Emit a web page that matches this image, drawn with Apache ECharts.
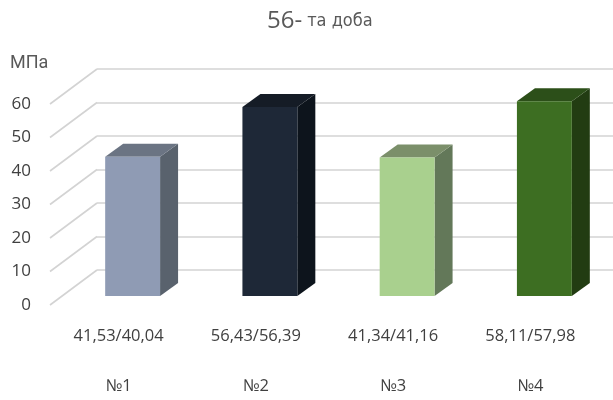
<!DOCTYPE html>
<html>
<head>
<meta charset="utf-8">
<script src="https://cdn.jsdelivr.net/npm/echarts@6/dist/echarts.min.js"></script>
<style>
  html, body { margin: 0; padding: 0; background: #fff; }
  #chart { width: 613px; height: 400px; }
</style>
</head>
<body>
<div id="chart"></div>
<script>
// дані діаграми
const categories = ['№1', '№2', '№3', '№4'];
const ratioLabels = ['41,53/40,04', '56,43/56,39', '41,34/41,16', '58,11/57,98'];
const values = [41.53, 56.43, 41.34, 58.11];
const yTicks = [0, 10, 20, 30, 40, 50, 60];

// кольори граней: фронт / верх / бік
const faceColors = ['#8f9bb4', '#1e2837', '#a9d08e', '#3d6e22'];
const topColors = ['#6b7483', '#151c26', '#7b8f6a', '#2c4f19'];
const sideColors = ['#59626d', '#0d141c', '#637859', '#223c12'];

const gridColor = '#d3d3d3';
const DEPTH_X = 47, DEPTH_Y = -35; // зсув задньої стінки

const chart = echarts.init(document.getElementById('chart'));

const option = {
  animation: false,
  title: [
    {
      text: '{a|56-} {b|та доба}',
      left: 262,
      top: 4,
      textStyle: {
        rich: {
          a: { fontFamily: 'Open Sans', fontSize: 24, fontWeight: 'normal', color: '#595959' },
          b: { fontFamily: "'Liberation Sans Narrow', 'DejaVu Sans Condensed', Roboto", fontSize: 18, fontWeight: 'normal', color: '#595959' }
        }
      }
    },
    {
      text: 'МПа',
      left: 5,
      top: 49,
      textStyle: { fontFamily: 'Roboto', fontSize: 18, fontWeight: 'normal', color: '#595959' }
    }
  ],
  grid: [
    // передня площина (підписи)
    { left: 50, right: 14, top: 104, bottom: 95, outerBoundsMode: 'none' },
    // задня стінка (сітка)
    { left: 50 + DEPTH_X, right: 0, top: 104 + DEPTH_Y, bottom: 95 - DEPTH_Y, outerBoundsMode: 'none' }
  ],
  xAxis: [
    {
      type: 'category',
      gridIndex: 0,
      data: categories,
      axisLine: { show: false },
      axisTick: { show: false },
      axisLabel: {
        margin: 6,
        lineHeight: 50,
        fontFamily: 'Open Sans',
        fontSize: 16.5,
        color: '#404040',
        formatter: (val, idx) => ratioLabels[idx] + '\n' + val
      }
    },
    {
      type: 'category',
      gridIndex: 1,
      data: categories,
      show: false
    }
  ],
  yAxis: [
    {
      type: 'value',
      gridIndex: 0,
      min: 0,
      max: 60,
      interval: 10,
      axisLine: { show: false },
      axisTick: { show: false },
      splitLine: { show: false },
      axisLabel: { margin: 19, fontFamily: 'Open Sans', fontSize: 17, color: '#404040' }
    },
    {
      type: 'value',
      gridIndex: 1,
      min: 0,
      max: 60,
      interval: 10,
      axisLine: { show: false },
      axisTick: { show: false },
      axisLabel: { show: false },
      splitLine: { show: true, lineStyle: { color: gridColor, width: 1.6 } }
    }
  ],
  series: [
    {
      // косі лінії сітки на бічній стінці
      type: 'custom',
      xAxisIndex: 0,
      yAxisIndex: 0,
      z: 1,
      silent: true,
      data: yTicks.map(t => [0, t]),
      encode: { x: 0, y: 1 },
      renderItem: (params, api) => {
        const p = api.coord([0, api.value(1)]);
        const cs = params.coordSys;
        return {
          type: 'line',
          shape: { x1: cs.x, y1: p[1], x2: cs.x + DEPTH_X, y2: p[1] + DEPTH_Y },
          style: { stroke: gridColor, lineWidth: 1.6 }
        };
      }
    },
    {
      // об'ємні стовпчики
      type: 'custom',
      xAxisIndex: 0,
      yAxisIndex: 0,
      z: 3,
      data: values.map((v, i) => [i, v]),
      encode: { x: 0, y: 1 },
      renderItem: (params, api) => {
        const i = api.value(0);
        const top = api.coord([i, api.value(1)]);
        const base = api.coord([i, 0]);
        const w = api.size([1, 0])[0] * 0.4;
        const x0 = top[0] + 14 - w / 2;
        const x1 = x0 + w;
        const yT = top[1] - 9;
        const yB = base[1] - 9;
        const dx = 18, dy = -13;
        return {
          type: 'group',
          children: [
            {
              type: 'polygon',
              shape: { points: [[x1, yT], [x1 + dx, yT + dy], [x1 + dx, yB + dy], [x1, yB]] },
              style: { fill: sideColors[i] }
            },
            {
              type: 'polygon',
              shape: { points: [[x0, yT], [x1, yT], [x1 + dx, yT + dy], [x0 + dx, yT + dy]] },
              style: { fill: topColors[i] }
            },
            {
              type: 'rect',
              shape: { x: x0, y: yT, width: w, height: yB - yT },
              style: { fill: faceColors[i] }
            }
          ]
        };
      }
    }
  ]
};

chart.setOption(option);
window.addEventListener('resize', () => chart.resize());
</script>
</body>
</html>
